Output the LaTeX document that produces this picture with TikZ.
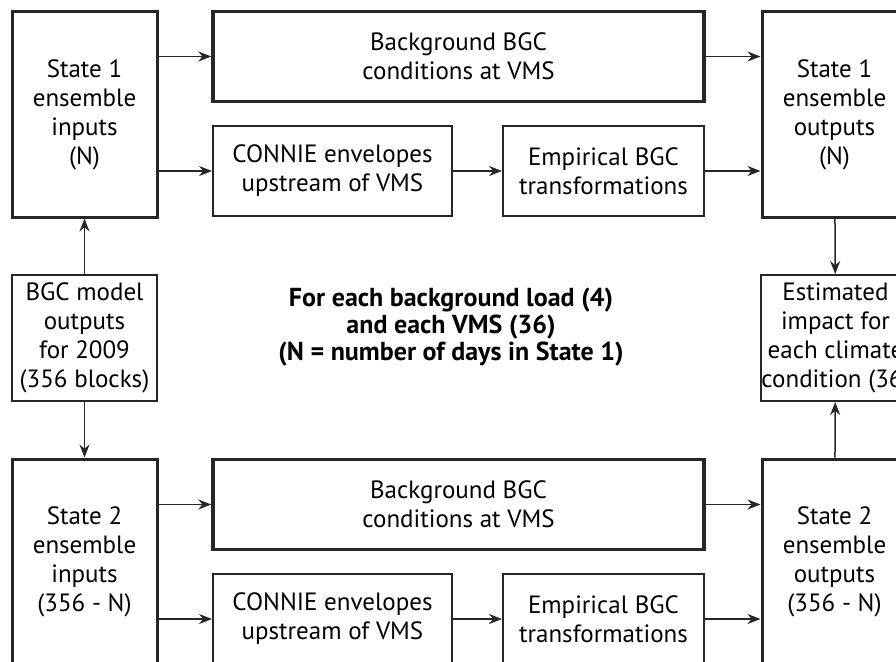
\documentclass[tikz,border=0pt]{standalone}
\usepackage{fontspec}
\setmainfont{PT Sans}
\usetikzlibrary{arrows.meta}
\tikzset{
  box/.style={draw=black!85,line width=2pt,align=center,inner sep=0pt,
    font=\fontsize{25}{29}\selectfont},
  statebox/.style={box,line width=3pt,minimum width=145pt,minimum height=205pt},
  bgbox/.style={box,line width=3.5pt,minimum width=491pt,minimum height=90pt},
  flow/.style={draw=black!85,line width=1.5pt,-{Stealth[length=13pt,width=10pt]}}
}
\begin{document}
\begin{tikzpicture}[x=1pt,y=-1pt]
   \useasboundingbox (0,0) rectangle (896,661);
   \clip (0,0) rectangle (896,661);

   \node[statebox] (in1) at (84.5,114.5) {State 1\\ensemble\\inputs\\(N)};
   \node[bgbox] (bg1) at (458.5,56.5) {Background BGC\\conditions at VMS};
   \node[box,minimum width=239pt,minimum height=90pt] (con1) at (332.5,171) {CONNIE envelopes\\upstream of VMS};
   \node[box,minimum width=201pt,minimum height=90pt] (emp1) at (603.5,171) {Empirical BGC\\transformations};
   \node[statebox] (out1) at (834.5,114.5) {State 1\\ensemble\\outputs\\(N)};

   \node[box,minimum width=145pt,minimum height=126pt] (model) at (84.5,338) {BGC model\\outputs\\for 2009\\(356 blocks)};
   \node[box,minimum width=145pt,minimum height=126pt] (est) at (835.5,338) {Estimated\\impact for\\each climate\\condition (36)};
   \node[align=center,font=\fontsize{26}{27}\selectfont\bfseries] (note) at (451,327)
      {For each background load (4)\\and each VMS (36)\\(N = number of days in State 1)};

   \node[statebox] (in2) at (84.5,561.5) {State 2\\ensemble\\inputs\\(356 - N)};
   \node[bgbox] (bg2) at (458.5,504.5) {Background BGC\\conditions at VMS};
   \node[box,minimum width=239pt,minimum height=90pt] (con2) at (332.5,619) {CONNIE envelopes\\upstream of VMS};
   \node[box,minimum width=201pt,minimum height=90pt] (emp2) at (603.5,619) {Empirical BGC\\transformations};
   \node[statebox] (out2) at (834.5,561.5) {State 2\\ensemble\\outputs\\(356 - N)};

   \draw[flow] (in1.east |- bg1) -- (bg1.west);
   \draw[flow] (in1.east |- con1) -- (con1.west);
   \draw[flow] (con1) -- (emp1);
   \draw[flow] (bg1.east) -- (out1.west |- bg1);
   \draw[flow] (emp1.east) -- (out1.west |- emp1);
   \draw[flow] (model) -- (in1);
   \draw[flow] (model) -- (in2);
   \draw[flow] (out1) -- (est);
   \draw[flow] (out2) -- (est);

   \draw[flow] (in2.east |- bg2) -- (bg2.west);
   \draw[flow] (in2.east |- con2) -- (con2.west);
   \draw[flow] (con2) -- (emp2);
   \draw[flow] (bg2.east) -- (out2.west |- bg2);
   \draw[flow] (emp2.east) -- (out2.west |- emp2);
\end{tikzpicture}
\end{document}
